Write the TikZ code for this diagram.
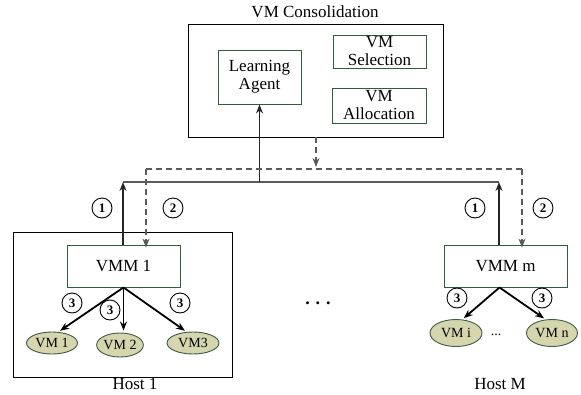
\documentclass[tikz,border=0pt]{standalone}
\usepackage{fontspec}
\setmainfont{Liberation Serif}
\usetikzlibrary{arrows.meta,positioning,calc,shapes.geometric}

\definecolor{boxgreen}{HTML}{2E5E3A}
\definecolor{vmfill}{HTML}{D5D5AE}
\definecolor{vmline}{HTML}{3F5A45}
\definecolor{busgray}{HTML}{5A5A5A}

\begin{document}
\begin{tikzpicture}[x=1pt, y=-1pt, >={Stealth[length=9pt, width=7pt]},
  txt/.style={font=\fontsize{17}{18}\selectfont},
  gbox/.style={draw=boxgreen, line width=0.9pt, fill=white, align=center, inner sep=0pt, txt},
  hostbox/.style={draw=black, line width=0.9pt, inner sep=0pt},
  vmm/.style={draw=boxgreen, line width=0.9pt, fill=white, inner sep=0pt, minimum height=42, txt},
  vm/.style={ellipse, draw=vmline, line width=0.9pt, fill=vmfill, inner sep=0pt, minimum height=24, font=\fontsize{14}{14}\selectfont},
  num/.style={circle, draw=black, line width=0.9pt, inner sep=0pt, minimum size=20, font=\bfseries\fontsize{13}{13}\selectfont},
  bus/.style={busgray, line width=1.1pt},
  dbus/.style={busgray, line width=1.1pt, dash pattern=on 6pt off 4pt},
  vmarrow/.style={->, line width=1.8pt, shorten >=2pt}]

  \useasboundingbox (0,0) rectangle (581,394);

  % 1. VM CONSOLIDATION (top)
  \node[hostbox, minimum width=255, minimum height=113] (cons) at (315.5,80.5) {};
  \node[font=\fontsize{17}{18}\selectfont] (constitle) at (315,12) {VM Consolidation};
  \node[gbox, minimum width=83, minimum height=54] (agent) at (259.5,77) {Learning\\Agent};
  \node[gbox, minimum width=93, minimum height=33] (sel) at (379.5,51.5) {VM\\Selection};
  \node[gbox, minimum width=94, minimum height=35] (alloc) at (379,105.5) {VM\\Allocation};

  % 2. HOSTS
  \node[hostbox, minimum width=219, minimum height=145] (host1) at (122.5,304.5) {};
  \node[txt] (host1lbl) at (135,384) {Host 1};
  \node[vmm, minimum width=113] (vmm1) at (123.5,266) {VMM 1};
  \node[vmm, minimum width=123] (vmmm) at (505.5,266) {VMM m};
  \node[txt] (hostMlbl) at (500,384) {Host M};

  % Virtual machines
  \node[vm, minimum width=51, minimum height=22] (vm1) at (52,343) {VM 1};
  \node[vm, minimum width=45] (vm2) at (120,345) {VM 2};
  \node[vm, minimum width=52, minimum height=22] (vm3) at (193,343) {VM3};
  \node[vm, minimum width=52, minimum height=27] (vmi) at (456,333) {VM i};
  \node[vm, minimum width=51, minimum height=27] (vmn) at (552,333) {VM n};
  \node[font=\fontsize{14}{14}\selectfont] (vmdots) at (496,335) {...};
  \node[font=\bfseries\fontsize{18}{18}\selectfont] (hostdots) at (318,303) {. . .};

  % 3. BUSES
  \coordinate (busL) at (123,182);
  \coordinate (busR) at (499,182);
  \coordinate (dbusL) at (146,169);
  \coordinate (dbusR) at (522,169);
  \coordinate (dtop) at (316,167);

  % solid bus: VMMs -> Learning Agent
  \draw[bus] (busL) -- (busR);
  \draw[bus, ->, black!85] (agent.south |- busL) -- (agent.south);
  \draw[bus, ->, black!85] (vmm1.north -| busL) -- (busL);
  \draw[bus, ->, black!85] (vmmm.north -| busR) -- (busR);

  % dashed bus: VM Consolidation -> VMMs
  \draw[dbus, ->] (cons.south -| dtop) -- (dtop);
  \draw[dbus] (dbusL) -- (dbusR);
  \draw[dbus, ->] (dbusL) -- ([yshift=-3]vmm1.north -| dbusL);
  \draw[dbus, ->] (dbusR) -- ([yshift=-3]vmmm.north -| dbusR);

  % 4. VMM -> VM ARROWS
  \coordinate (fork1) at (vmm1.south);
  \coordinate (forkm) at ([xshift=-6]vmmm.south);
  \draw[vmarrow] (fork1) -- (vm1.60);
  \draw[vmarrow] (fork1) -- (fork1 |- vm2.north);
  \draw[vmarrow] (fork1) -- (vm3.120);
  \draw[vmarrow] (forkm) -- (vmi.65);
  \draw[vmarrow] (forkm) -- (vmn.115);

  % 5. STEP NUMBERS
  \node[num] (n1a) at (102,208) {1};
  \node[num] (n2a) at (173,208) {2};
  \node[num] (n1b) at (475,208) {1};
  \node[num] (n2b) at (543,208) {2};
  \node[num] (n3a) at (72,303) {3};
  \node[num] (n3b) at (110,310) {3};
  \node[num] (n3c) at (180,303) {3};
  \node[num] (n3d) at (457,298) {3};
  \node[num] (n3e) at (542,298) {3};

\end{tikzpicture}
\end{document}
